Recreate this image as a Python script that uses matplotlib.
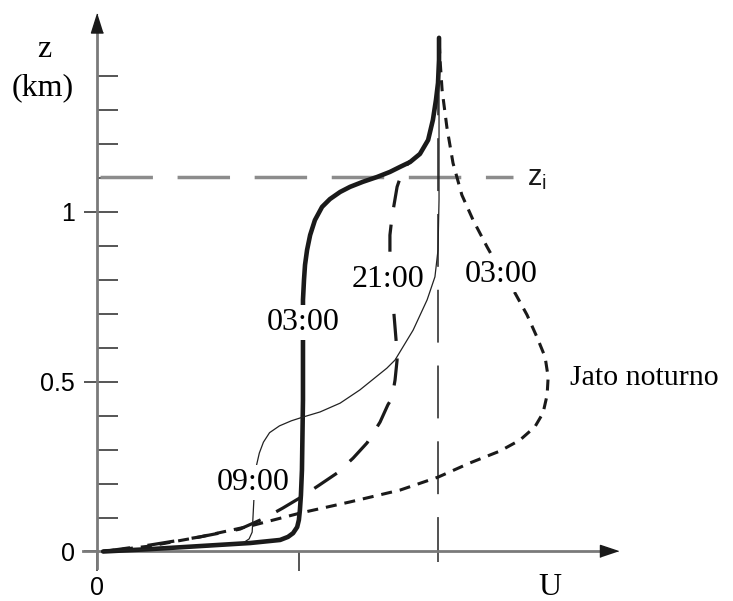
import matplotlib
matplotlib.use('Agg')
import matplotlib.pyplot as plt

plt.rcParams['font.family'] = ['Liberation Sans', 'DejaVu Sans']
plt.rcParams['mathtext.fontset'] = 'custom'
plt.rcParams['mathtext.rm'] = 'Liberation Sans'

# wind profiles, U in arbitrary units, z in km
# 03:00 - stable nocturnal profile (thick solid)
u_stable = [0.18, 1.55, 3.02, 4.49, 5.37, 5.60, 5.75, 5.87, 5.92, 5.95, 5.98, 6.01,
            6.04, 6.04, 6.07, 6.10, 6.16, 6.25, 6.39, 6.60, 6.83, 7.13, 7.42, 7.80,
            8.21, 8.59, 8.89, 9.18, 9.47, 9.71, 9.85, 9.94, 10.00, 10.03, 10.03]
z_stable = [0.0, 0.007, 0.016, 0.025, 0.034, 0.043, 0.054, 0.072, 0.093, 0.122, 0.166, 0.240,
            0.446, 0.741, 0.800, 0.844, 0.888, 0.932, 0.976, 1.015, 1.038, 1.059, 1.074, 1.089,
            1.103, 1.118, 1.133, 1.147, 1.171, 1.212, 1.271, 1.330, 1.380, 1.448, 1.513]

# 21:00 - evening profile (long dashes)
u_evening = [0.18, 1.55, 3.02, 4.19, 4.93, 5.45, 5.95, 6.48, 7.04, 7.51, 7.92, 8.30,
             8.53, 8.65, 8.74, 8.80, 8.77, 8.71, 8.65, 8.59, 8.59, 8.65, 8.80, 8.97, 9.18]
z_evening = [0.0, 0.019, 0.043, 0.066, 0.099, 0.128, 0.158, 0.193, 0.231, 0.275, 0.320, 0.381,
             0.432, 0.452, 0.505, 0.564, 0.623, 0.697, 0.785, 0.873, 0.932, 0.985, 1.074, 1.124, 1.150]

# 03:00 - nocturnal jet (short dashes)
u_jet = [0.18, 1.55, 3.02, 4.49, 5.95, 7.42, 8.89, 10.00, 10.94, 11.82, 12.40, 12.84,
         13.08, 13.20, 13.23, 13.14, 12.90, 12.61, 12.26, 11.82, 11.44, 11.03, 10.70,
         10.44, 10.26, 10.12, 10.06, 10.03]
z_jet = [0.0, 0.016, 0.043, 0.075, 0.113, 0.146, 0.181, 0.219, 0.261, 0.296, 0.328, 0.367,
         0.408, 0.461, 0.514, 0.573, 0.632, 0.697, 0.761, 0.829, 0.897, 0.976, 1.050,
         1.144, 1.250, 1.359, 1.448, 1.513]

# 09:00 - morning convective profile (thin solid)
u_morning = [0.18, 1.55, 3.02, 3.90, 4.28, 4.46, 4.55, 4.57, 4.60, 4.63, 4.68, 4.76,
             4.88, 5.06, 5.35, 5.70, 6.04, 6.54, 7.13, 7.71, 8.50, 8.74, 9.27, 9.68, 9.91,
             10.00, 10.03, 10.03]
z_morning = [0.0, 0.007, 0.013, 0.019, 0.025, 0.037, 0.057, 0.093, 0.152, 0.211, 0.255, 0.290,
             0.322, 0.350, 0.370, 0.385, 0.396, 0.411, 0.437, 0.476, 0.540, 0.564, 0.652, 0.741, 0.809,
             0.888, 1.036, 1.513]

z_i = 1.103          # inversion height
u_geo = 10.0         # reference wind (vertical dashed line)
z_top = 1.513

y_major = [0, 0.5, 1]
y_major_labels = ['0', '0.5', '1']
y_minor = [0.1, 0.2, 0.3, 0.4, 0.5, 0.6, 0.7, 0.8, 0.9, 1.0, 1.1, 1.2, 1.3, 1.4]
x_major = [0, 5.92]
x_major_labels = ['0', '']
x_minor = [10.0]

fig = plt.figure(figsize=(7.33, 6.01), dpi=100)
ax = fig.add_axes([0, 0, 1, 1])
ax.set_xlim(-2.845, 18.651)
ax.set_ylim(-0.1458, 1.6244)

for s in ['top', 'right']:
    ax.spines[s].set_visible(False)
for s in ['left', 'bottom']:
    ax.spines[s].set_position(('data', 0))
    ax.spines[s].set_color('#7a7a7a')
    ax.spines[s].set_linewidth(2.0)
ax.spines['left'].set_bounds(-0.048, 1.53)
ax.spines['bottom'].set_bounds(-0.41, 14.75)

# arrow heads
ax.plot([0], [1.558], marker=[(0, 1), (-0.63, -1), (0.63, -1)], ms=13.7,
        color='#1a1a1a', clip_on=False, zorder=5)
ax.plot([15.01], [0], marker=[(1, 0), (-1, 0.67), (-1, -0.67)], ms=13,
        color='#1a1a1a', clip_on=False, zorder=5)

ax.set_yticks(y_major, y_major_labels)
ax.set_yticks(y_minor, minor=True)
ax.yaxis.remove_overlapping_locs = False
ax.tick_params(axis='y', which='major', direction='out', length=9.4, width=1.4,
               color='#555555', pad=6.5, labelsize=18)
ax.tick_params(axis='y', which='minor', direction='in', length=15, width=1.4,
               color='#555555')
ax.set_xticks(x_major, x_major_labels)
ax.set_xticks(x_minor, minor=True)
ax.tick_params(axis='x', which='major', direction='out', length=14.4, width=1.4,
               color='#555555', pad=3.0, labelsize=18)
ax.tick_params(axis='x', which='minor', direction='out', length=8, width=1.4,
               color='#555555')

# reference lines
ax.plot([0.09, 12.2], [z_i, z_i], color='#8c8c8c', lw=2.5, linestyle=(0, (15.1, 7.1)), zorder=2)
ax.plot([u_geo, u_geo], [0, z_top], color='#222222', lw=1.1,
        linestyle=(12.4, (34.6, 15.0)), zorder=2)

# profiles
ax.plot(u_stable, z_stable, color='#1a1a1a', lw=3.3, solid_capstyle='round', zorder=3)
ax.plot(u_evening, z_evening, color='#1a1a1a', lw=2.3, linestyle=(0, (8.5, 5.5)), zorder=3)
ax.plot(u_jet, z_jet, color='#1a1a1a', lw=2.2, linestyle=(0, (3.6, 2.6)), zorder=3)
ax.plot(u_morning, z_morning, color='#222222', lw=0.9, zorder=3)

serif = 'Liberation Serif'
box = dict(boxstyle='square,pad=0.1', fc='white', ec='none')
ax.text(6.04, 0.652, '03:00', family=serif, size=23, ha='center', va='baseline', bbox=box, zorder=4)
ax.text(8.53, 0.779, '21:00', family=serif, size=23, ha='center', va='baseline', bbox=box, zorder=4)
ax.text(11.85, 0.794, '03:00', family=serif, size=23, ha='center', va='baseline', bbox=box, zorder=4)
ax.text(4.57, 0.181, '09:00', family=serif, size=23, ha='center', va='baseline', bbox=box, zorder=4)
ax.text(13.87, 0.490, 'Jato noturno', family=serif, size=21.5, ha='left', va='baseline', zorder=4)
ax.text(-1.55, 1.456, 'z', family=serif, size=23, ha='center', va='baseline')
ax.text(-1.58, 1.344, '(km)', family=serif, size=23, ha='center', va='baseline')
ax.text(13.28, -0.128, 'U', family=serif, size=23, ha='center', va='baseline')
ax.text(12.61, 1.080, r'$\mathrm{z_i}$', size=21, ha='left', va='baseline', color='#1a1a1a')

fig.savefig('out.png', dpi=100)
